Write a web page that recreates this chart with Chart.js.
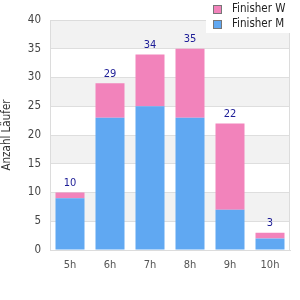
<!DOCTYPE html>
<html>
<head>
<meta charset="utf-8">
<script src="https://cdn.jsdelivr.net/npm/chart.js@4"></script>
<style>
  html, body { margin: 0; padding: 0; background: #fff; }
  #wrap { width: 300px; height: 300px; }
</style>
</head>
<body>
<div id="wrap"><canvas id="chart" width="300" height="300"></canvas></div>
<script>
// Finisher je Zielzeit-Stunde
var categories = ['5h', '6h', '7h', '8h', '9h', '10h'];
var finisherM = [9, 23, 25, 23, 7, 2];
var finisherW = [1, 6, 9, 12, 15, 1];
var totals = [10, 29, 34, 35, 22, 3];

var FONT = "'DejaVu Sans Condensed', 'Liberation Sans', sans-serif";
var BLUE = '#60a8f2';
var PINK = '#f283bb';

// alternating grey bands behind the bars
var bandsPlugin = {
  id: 'bands',
  beforeDraw: function (chart) {
    var c = chart.ctx, a = chart.chartArea, y = chart.scales.y;
    c.save();
    for (var v = 5; v < 40; v += 10) {
      var top = y.getPixelForValue(v + 5), bot = y.getPixelForValue(v);
      c.fillStyle = '#f2f2f2';
      c.fillRect(a.left, top, a.right - a.left, bot - top);
    }
    c.restore();
  },
  afterDatasetsDraw: function (chart) {
    var c = chart.ctx, a = chart.chartArea;
    // plot frame: left, right, top
    c.save();
    c.strokeStyle = '#dcdcdc';
    c.lineWidth = 1;
    c.beginPath();
    c.moveTo(a.left + 0.5, a.top); c.lineTo(a.left + 0.5, a.bottom);
    c.moveTo(a.right - 0.5, a.top); c.lineTo(a.right - 0.5, a.bottom);
    c.moveTo(a.left, a.top + 0.5); c.lineTo(a.right, a.top + 0.5);
    c.stroke();

    // totals above stacks
    var meta = chart.getDatasetMeta(1);
    c.fillStyle = '#1c1c96';
    c.font = '11px ' + FONT;
    c.textAlign = 'center';
    c.textBaseline = 'bottom';
    for (var i = 0; i < totals.length; i++) {
      var x = meta.data[i].x;
      var yy = chart.scales.y.getPixelForValue(totals[i]);
      c.fillText(String(totals[i]), x, yy - 4);
    }

    // legend box, top right, over the plot
    c.fillStyle = '#ffffff';
    c.fillRect(206, 0, a.right - 206, 33);
    var items = [[chart.data.datasets[1].label, PINK], [chart.data.datasets[0].label, BLUE]];
    c.textAlign = 'left';
    c.textBaseline = 'middle';
    c.font = '11.5px ' + FONT;
    for (var k = 0; k < items.length; k++) {
      var by = 5 + k * 15;
      c.fillStyle = items[k][1];
      c.fillRect(213.5, by + 0.5, 8, 8);
      c.strokeStyle = '#777';
      c.strokeRect(213.5, by + 0.5, 8, 8);
      c.fillStyle = '#222';
      c.fillText(items[k][0], 232, by + 4.5);
    }
    c.restore();
  }
};

new Chart(document.getElementById('chart').getContext('2d'), {
  type: 'bar',
  data: {
    labels: categories,
    datasets: [
      { label: 'Finisher M', data: finisherM, backgroundColor: BLUE, borderWidth: 0 },
      { label: 'Finisher W', data: finisherW, backgroundColor: PINK, borderWidth: 0 }
    ]
  },
  options: {
    responsive: false,
    animation: false,
    devicePixelRatio: 1,
    layout: { padding: { top: 20, right: 10, left: 0, bottom: 0 } },
    datasets: { bar: { categoryPercentage: 1, barPercentage: 0.725 } },
    plugins: { legend: { display: false }, tooltip: { enabled: false } },
    scales: {
      x: {
        stacked: true,
        grid: { display: false, drawTicks: false },
        border: { color: '#dcdcdc' },
        ticks: { color: '#555', padding: 9, font: { family: FONT, size: 11 } },
        afterFit: function (s) { s.height = 50; }
      },
      y: {
        stacked: true,
        min: 0,
        max: 40,
        ticks: { stepSize: 5, color: '#444', padding: 9, font: { family: FONT, size: 11.5 } },
        grid: { color: '#dedede', drawTicks: false },
        border: { display: false },
        title: {
          display: true,
          text: 'Anzahl Läufer',
          color: '#333',
          padding: { top: 0, bottom: 0 },
          font: { family: FONT, size: 11.5 }
        },
        afterFit: function (s) { s.width = 50; }
      }
    }
  },
  plugins: [bandsPlugin]
});
</script>
</body>
</html>
